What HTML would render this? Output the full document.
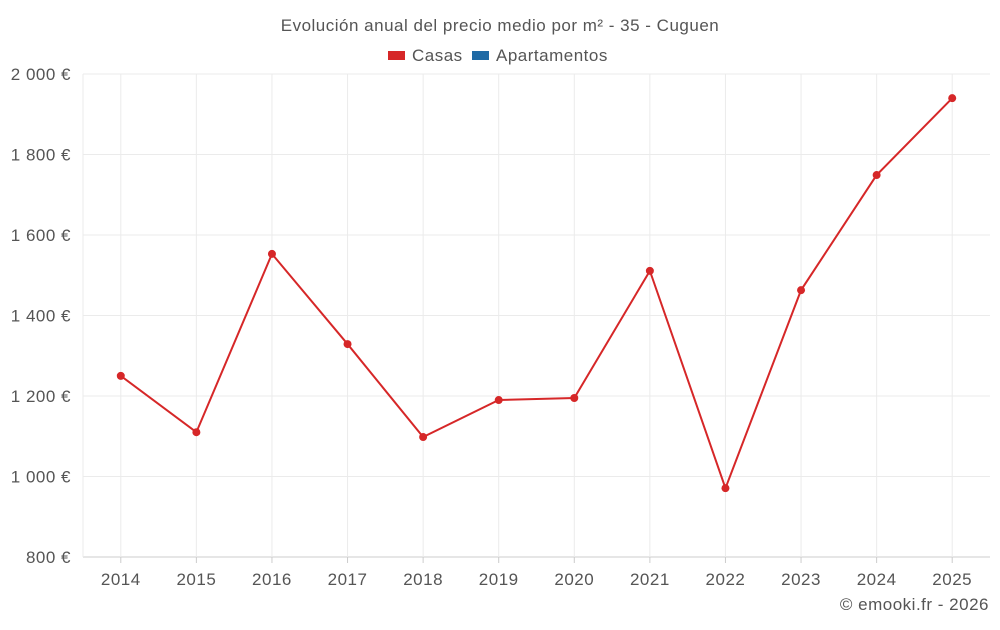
<!DOCTYPE html>
<html><head><meta charset="utf-8"><style>
body{margin:0;background:#fff;font-family:"Liberation Sans",sans-serif;}
svg text{font-family:"Liberation Sans",sans-serif;letter-spacing:0.5px;}
</style></head><body>
<svg id="chart" width="1000" height="625" xmlns="http://www.w3.org/2000/svg">
<text x="500" y="31" text-anchor="middle" font-size="17" fill="#555">Evolución anual del precio medio por m² - 35 - Cuguen</text>
<g><rect x="388" y="51" width="17" height="9" fill="#d62728"/><text x="412" y="61" font-size="17" fill="#555">Casas</text></g>
<g><rect x="472" y="51" width="17" height="9" fill="#1f6aa5"/><text x="496" y="61" font-size="17" fill="#555">Apartamentos</text></g>
<g id="grid"></g><g id="axes"></g><g id="marks"></g>
<text x="989" y="610" text-anchor="end" font-size="17" fill="#555">© emooki.fr - 2026</text>
</svg>
<script>
const categories=["2014","2015","2016","2017","2018","2019","2020","2021","2022","2023","2024","2025"];
const casas=[1250,1110,1553,1329,1098,1190,1195,1511,971,1463,1749,1940];
const yTicks=[800,1000,1200,1400,1600,1800,2000];
const yTickLabels=["800 €","1 000 €","1 200 €","1 400 €","1 600 €","1 800 €","2 000 €"];
const NS="http://www.w3.org/2000/svg";
const L=83,R=990,T=74,B=557,yMin=800,yMax=2000;
const step=(R-L)/categories.length;
function x(i){return L+step*(i+0.5);}
function y(v){return B-(v-yMin)/(yMax-yMin)*(B-T);}
function mk(tag,attrs,parent){const e=document.createElementNS(NS,tag);for(const k in attrs)e.setAttribute(k,attrs[k]);document.getElementById(parent).appendChild(e);return e;}
yTicks.forEach((v,i)=>{
 const g=mk("line",{x1:L,x2:R,y1:y(v),y2:y(v),stroke:i===0?"#ccc":"#ebebeb","stroke-width":1},"grid");
 
 
 const t=mk("text",{x:71,y:y(v)+6,"text-anchor":"end","font-size":17,fill:"#555"},"axes");
 t.textContent=yTickLabels[i];
 
 
});
mk("line",{x1:L,x2:L,y1:T,y2:B,stroke:"#ebebeb"},"grid");
categories.forEach((c,i)=>{
 const g=mk("line",{x1:x(i),x2:x(i),y1:T,y2:B,stroke:"#ebebeb"},"grid");
 
 
 mk("line",{x1:x(i),x2:x(i),y1:B,y2:B+6,stroke:"#ccc"},"axes");
 const t=mk("text",{x:x(i),y:585,"text-anchor":"middle","font-size":17,fill:"#555"},"axes");
 t.textContent=c;
 
 
});
const p=mk("polyline",{points:casas.map((v,i)=>x(i)+","+y(v)).join(" "),fill:"none",stroke:"#d62728","stroke-width":2},"marks");


casas.forEach((v,i)=>{
 const c=mk("circle",{cx:x(i),cy:y(v),r:4,fill:"#d62728"},"marks");
 
 
});
</script>
</body></html>
